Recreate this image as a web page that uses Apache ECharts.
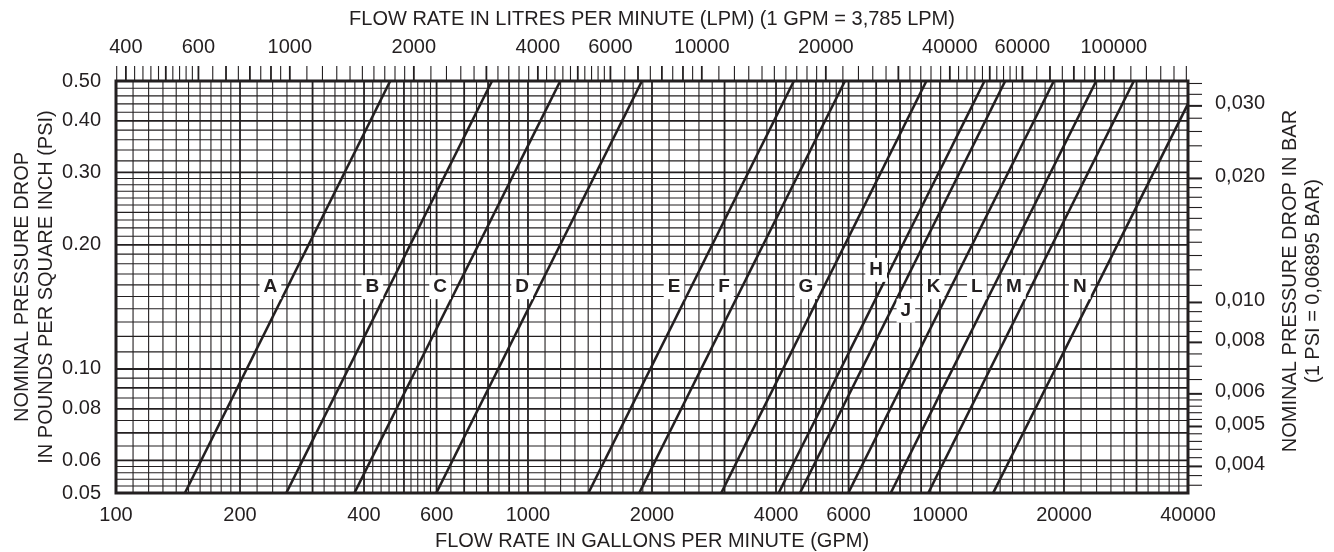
<!DOCTYPE html>
<html>
<head>
<meta charset="utf-8">
<title>Nominal pressure drop</title>
<script src="https://cdn.jsdelivr.net/npm/echarts@6.0.0/dist/echarts.min.js"></script>
<style>
  html, body { margin: 0; padding: 0; background: #fff; }
  #main { width: 1334px; height: 552px; }
</style>
</head>
<body>
<div id="main"></div>
<script>
const INK = '#231f20';
const FONT = '"Liberation Sans", Arial, sans-serif';
const LPM_PER_GPM = 3.785;
const BAR_PER_PSI = 0.06895;

// axis ranges
const gpmMin = 100, gpmMax = 40000;
const psiMin = 0.05, psiMax = 0.5;

// tick labels
const gpmLabels = [100, 200, 400, 600, 1000, 2000, 4000, 6000, 10000, 20000, 40000];
const lpmLabels = [400, 600, 1000, 2000, 4000, 6000, 10000, 20000, 40000, 60000, 100000];
const psiLabels = [0.05, 0.06, 0.08, 0.10, 0.20, 0.30, 0.40, 0.50];
const barLabels = [0.030, 0.020, 0.010, 0.008, 0.006, 0.005, 0.004];

// grid / tick spacing: [from, to, step]
const gpmGridSteps = [[100, 200, 10], [200, 600, 20], [600, 1000, 50], [1000, 2000, 100],
  [2000, 6000, 200], [6000, 10000, 500], [10000, 20000, 1000], [20000, 40000, 2000]];
const psiGridSteps = [[0.05, 0.06, 0.002], [0.06, 0.1, 0.005], [0.1, 0.3, 0.01], [0.3, 0.5, 0.02]];
const lpmTickSteps = [[380, 600, 20], [600, 1000, 50], [1000, 2000, 100], [2000, 6000, 200],
  [6000, 10000, 500], [10000, 20000, 1000], [20000, 60000, 2000], [60000, 100000, 5000],
  [100000, 150000, 10000]];
const barTickSteps = [[0.0036, 0.006, 0.0002], [0.006, 0.01, 0.0005], [0.01, 0.02, 0.001],
  [0.02, 0.034, 0.002]];

// curves: flow (GPM) where each line leaves the bottom (0.05 psi) and top edge
const lineNames = ['A', 'B', 'C', 'D', 'E', 'F', 'G', 'H', 'J', 'K', 'L', 'M', 'N'];
const flowLow  = [147, 259, 379, 599, 1402, 1862, 2945, 4060, 4573, 5990, 7595, 9370, 13460];
const flowHigh = [463, 818, 1198, 1891, 4420, 5880, 9270, 12830, 14400, 18900, 23950, 29550, 40000];
const psiHigh  = [0.5, 0.5, 0.5, 0.5, 0.5, 0.5, 0.5, 0.5, 0.5, 0.5, 0.5, 0.5, 0.44];

// letter tags
const tagFlow = [237, 419, 612, 968, 2262, 2991, 4729, 7000, 8266, 9650, 12290, 15109, 21844];
const tagPsi  = [0.158, 0.158, 0.158, 0.158, 0.158, 0.158, 0.158, 0.174, 0.1385, 0.158, 0.158, 0.158, 0.158];

function spread(segments) {
  const set = new Set();
  segments.forEach(([from, to, step]) => {
    const n = Math.round((to - from) / step);
    for (let i = 0; i <= n; i++) set.add(+(from + i * step).toPrecision(6));
  });
  return Array.from(set).sort((a, b) => a - b);
}

function isMajor(v) {
  const e = Math.pow(10, Math.floor(Math.log10(v) + 1e-9));
  return Math.abs(v / e - Math.round(v / e)) < 1e-6;
}

const gpmGrid = spread(gpmGridSteps).filter(v => v > gpmMin && v < gpmMax);
const psiGrid = spread(psiGridSteps).filter(v => v > psiMin && v < psiMax);
const lpmTicks = spread(lpmTickSteps);
const barTicks = spread(barTickSteps);

function txt(x, y, text, align, extra) {
  return Object.assign({
    type: 'text', x: x, y: y, silent: true,
    style: {
      text: text, fill: INK, fontSize: 20, fontFamily: FONT,
      align: align, verticalAlign: 'middle', textAlign: align, textVerticalAlign: 'middle'
    }
  }, extra || {});
}

// main grid, border and GPM / PSI labels
function renderMain(params, api) {
  const cs = params.coordSys;
  const left = cs.x, top = cs.y, right = cs.x + cs.width, bottom = cs.y + cs.height;
  const children = [];
  gpmGrid.forEach(v => {
    const x = api.coord([v, psiMin])[0];
    children.push({ type: 'line', shape: { x1: x, y1: top, x2: x, y2: bottom },
      style: { stroke: INK, lineWidth: isMajor(v) ? 1.8 : 1.1 } });
  });
  psiGrid.forEach(v => {
    const y = api.coord([gpmMin, v])[1];
    children.push({ type: 'line', shape: { x1: left, y1: y, x2: right, y2: y },
      style: { stroke: INK, lineWidth: isMajor(v) ? 1.8 : 1.1 } });
  });
  children.push({ type: 'rect', shape: { x: left, y: top, width: right - left, height: bottom - top },
    style: { fill: null, stroke: INK, lineWidth: 3 } });
  gpmLabels.forEach(v => {
    const x = api.coord([v, psiMin])[0];
    children.push(txt(x, bottom + 22, String(v), 'center'));
  });
  psiLabels.forEach(v => {
    const y = api.coord([gpmMin, v])[1];
    children.push(txt(left - 15, y, v.toFixed(2), 'right'));
  });
  return { type: 'group', children: children };
}

// top LPM ticks and right BAR ticks
function renderSecondary(params, api) {
  const cs = params.coordSys;
  const top = cs.y, right = cs.x + cs.width;
  const barMin = psiMin * BAR_PER_PSI, lpmMin = gpmMin * LPM_PER_GPM;
  const children = [];
  lpmTicks.forEach(v => {
    const x = api.coord([v, barMin])[0];
    children.push({ type: 'line', shape: { x1: x, y1: top - 15, x2: x, y2: top },
      style: { stroke: INK, lineWidth: isMajor(v) ? 1.8 : 1.1 } });
  });
  lpmLabels.forEach(v => {
    const x = api.coord([v, barMin])[0];
    children.push(txt(x, top - 34, String(v), 'center'));
  });
  barTicks.forEach(v => {
    const y = api.coord([lpmMin, v])[1];
    const major = barLabels.some(b => Math.abs(b - v) < 1e-9);
    children.push({ type: 'line', shape: { x1: right, y1: y, x2: right + 14, y2: y },
      style: { stroke: INK, lineWidth: major ? 2 : 1.1 } });
  });
  barLabels.forEach(v => {
    const y = api.coord([lpmMin, v])[1];
    children.push(txt(right + 27, y - 2, v.toFixed(3).replace('.', ','), 'left'));
  });
  return { type: 'group', children: children };
}

// letter tags in white boxes
function renderTag(params, api) {
  const p = api.coord([api.value(0), api.value(1)]);
  return {
    type: 'text', x: p[0], y: p[1], silent: true,
    style: {
      text: lineNames[params.dataIndex], fill: INK,
      font: 'bold 19px "Liberation Sans", Arial, sans-serif',
      align: 'center', verticalAlign: 'middle', textAlign: 'center', textVerticalAlign: 'middle',
      backgroundColor: '#fff', padding: [3, 4, 2, 4]
    }
  };
}

const series = [
  {
    type: 'custom', xAxisIndex: 0, yAxisIndex: 0, z: 1, silent: true,
    data: [[gpmMin, psiMin]], renderItem: renderMain
  },
  {
    type: 'custom', xAxisIndex: 1, yAxisIndex: 1, z: 1, silent: true,
    data: [[gpmMin * LPM_PER_GPM, psiMin * BAR_PER_PSI]], renderItem: renderSecondary
  }
];

lineNames.forEach((name, i) => {
  series.push({
    type: 'line', name: name, xAxisIndex: 0, yAxisIndex: 0, z: 3, silent: true,
    symbol: 'none', showSymbol: false,
    lineStyle: { color: INK, width: 2.6 },
    data: [[flowLow[i], psiMin], [flowHigh[i], psiHigh[i]]]
  });
});

series.push({
  type: 'custom', xAxisIndex: 0, yAxisIndex: 0, z: 5, silent: true,
  data: tagFlow.map((f, i) => [f, tagPsi[i]]),
  renderItem: renderTag
});

const hiddenAxis = { show: false, axisLine: { show: false }, axisTick: { show: false },
  axisLabel: { show: false }, splitLine: { show: false } };

const chart = echarts.init(document.getElementById('main'));
chart.setOption({
  animation: false,
  backgroundColor: '#fff',
  grid: { left: 116, right: 146, top: 81, bottom: 59, containLabel: false, outerBoundsMode: 'none' },
  xAxis: [
    Object.assign({ type: 'log', logBase: 10, min: gpmMin, max: gpmMax, position: 'bottom' }, hiddenAxis),
    Object.assign({ type: 'log', logBase: 10, min: gpmMin * LPM_PER_GPM, max: gpmMax * LPM_PER_GPM, position: 'top' }, hiddenAxis)
  ],
  yAxis: [
    Object.assign({ type: 'log', logBase: 10, min: psiMin, max: psiMax, position: 'left' }, hiddenAxis),
    Object.assign({ type: 'log', logBase: 10, min: psiMin * BAR_PER_PSI, max: psiMax * BAR_PER_PSI, position: 'right' }, hiddenAxis)
  ],
  graphic: [
    txt(652, 19, 'FLOW RATE IN LITRES PER MINUTE (LPM) (1 GPM = 3,785 LPM)', 'center'),
    txt(652, 541, 'FLOW RATE IN GALLONS PER MINUTE (GPM)', 'center'),
    txt(22, 287, 'NOMINAL PRESSURE DROP', 'center', { rotation: Math.PI / 2 }),
    txt(46, 287, 'IN POUNDS PER SQUARE INCH (PSI)', 'center', { rotation: Math.PI / 2 }),
    txt(1290, 281, 'NOMINAL PRESSURE DROP IN BAR', 'center', { rotation: Math.PI / 2 }),
    txt(1313, 281, '(1 PSI = 0,06895 BAR)', 'center', { rotation: Math.PI / 2 })
  ],
  series: series
});
</script>
</body>
</html>
